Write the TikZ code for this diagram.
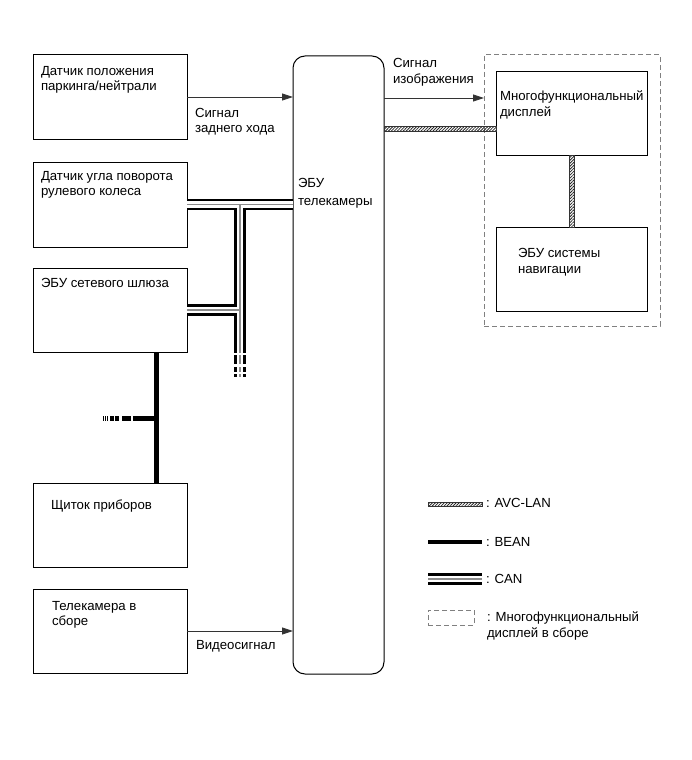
\documentclass[tikz,border=0pt]{standalone}
\usepackage{fontspec}
\setmainfont{Liberation Sans}
\usetikzlibrary{arrows.meta,patterns.meta}
\begin{document}
\begin{tikzpicture}[x=1pt,y=-1pt,
  box/.style={draw=black, line width=1pt, rectangle, inner sep=0pt, outer sep=0pt, anchor=north west},
  grpbox/.style={draw=black!50, line width=1pt, dash pattern=on 5pt off 3pt, rectangle, inner sep=0pt, outer sep=0pt, anchor=north west},
  txt/.style={font=\fontsize{13.2}{15.5}\selectfont, align=left, anchor=base west, inner sep=0pt, outer sep=0pt},
  sig/.style={draw=black!80, line width=0.9pt, -{Triangle[length=11pt,width=7pt]}},
  bean/.style={draw=black, line width=5pt},
  canA/.style={draw=black, line width=11.3pt},
  canB/.style={draw=white, line width=6.5pt},
  canC/.style={draw=black!45, line width=1.6pt},
  avc/.style={draw=black!80, line width=0.7pt, fill=white, pattern={Lines[angle=45,distance=2.1pt,line width=0.8pt]}, pattern color=black!85},
]
\useasboundingbox[fill=white] (0,0) rectangle (692,760);

% boxes
\node[box, minimum width=154pt, minimum height=84pt] (b1) at (33,55) {};
\node[box, minimum width=154pt, minimum height=85pt] (b2) at (33,162) {};
\node[box, minimum width=154pt, minimum height=84pt] (b3) at (33,268) {};
\node[box, minimum width=154pt, minimum height=84pt] (b4) at (33,483) {};
\node[box, minimum width=154pt, minimum height=84pt] (b5) at (33,589) {};
\node[box, rounded corners=12pt, minimum width=91pt, minimum height=618pt] (ecu) at (293,56) {};
\node[grpbox, minimum width=176pt, minimum height=271pt] (grp) at (484,55) {};
\node[box, minimum width=151pt, minimum height=83pt] (disp) at (496,72) {};
\node[box, minimum width=151pt, minimum height=84pt] (nav) at (496,227) {};

% texts (multi-line nodes: base = last line)
\node[txt] (t1) at (41,90.5) {Датчик положения\\паркинга/нейтрали};
\node[txt] (t2) at (41,195.5) {Датчик угла поворота\\рулевого колеса};
\node[txt] (t3) at (41,287) {ЭБУ сетевого шлюза};
\node[txt] (t4) at (51,509) {Щиток приборов};
\node[txt] (t5) at (52,625.5) {Телекамера в\\сборе};
\node[txt, font=\fontsize{13.2}{18}\selectfont] (tecu) at (298,205) {ЭБУ\\телекамеры};
\node[txt] (l1) at (195,132.5) {Сигнал\\заднего хода};
\node[txt] (l2) at (196,649) {Видеосигнал};
\node[txt] (l3) at (393,83) {Сигнал\\изображения};
\node[txt] (tdisp) at (500,116) {Многофункциональный\\дисплей};
\node[txt] (tnav) at (518,273) {ЭБУ системы\\навигации};

% signal arrows
\draw[sig] (b1.east) -- (b1.east -| ecu.west);
\draw[sig] (b5.east) -- (b5.east -| ecu.west);
\coordinate (imgy) at (0,98);
\draw[sig] (imgy -| ecu.east) -- (imgy -| grp.west);

% AVC-LAN
\coordinate (avcT) at (0,126);
\coordinate (avcB) at (0,131);
\path[avc] (avcT -| ecu.east) rectangle (avcB -| disp.west);
\coordinate (avcL) at (569.5,0);
\coordinate (avcR) at (574.5,0);
\path[avc] (avcL |- disp.south) rectangle (avcR |- nav.north);

% BEAN
\coordinate (bx) at (156,0);
\coordinate (by) at (0,418);
\draw[bean] (bx |- b3.south) -- (bx |- b4.north);
\draw[bean] (bx |- by) -- (133,418);
\coordinate (bend) at (103,418);
\draw[bean, dash pattern=on 0pt off 2pt on 9pt off 3pt on 4pt off 1pt on 4pt off 2pt on 1.2pt off 1pt on 1.2pt off 1pt on 1.2pt off 20pt] (133,418) -- (bend);

% CAN
\coordinate (cx) at (240,0);
\coordinate (cbot) at (240,353);
\coordinate (cend) at (240,378);
\foreach \lay in {canA,canB,canC}{
  \draw[\lay] (b2.east) -- (b2.east -| ecu.west);
  \draw[\lay] (cx |- b2.east) -- (cbot);
  \draw[\lay] (b3.east) -- (cx |- b3.east);
  \draw[\lay, dash pattern=on 0pt off 2pt on 9pt off 3pt on 5pt off 2pt on 3pt off 20pt] (cbot) -- (cend);
}

% legend
\path[avc] (428,502) coordinate (avc1) rectangle (482,506.5) coordinate (avc2);
\node[txt] (lt1) at (486,507) {: AVC-LAN};
\coordinate (bean1) at (428,542);
\coordinate (bean2) at (482,542);
\draw[line width=4.5pt, draw=black] (bean1) -- (bean2);
\node[txt] (lt2) at (486,546) {: BEAN};
\coordinate (can1) at (428,579);
\coordinate (can2) at (482,579);
\foreach \lay in {canA,canB,canC}{
  \draw[\lay] (can1) -- (can2);
}
\node[txt] (lt3) at (486,583) {: CAN};
\node[grpbox, minimum width=46pt, minimum height=15pt] (lgrp) at (428,610) {};
\node[txt] (lt4) at (487,637) {: Многофункциональный\\дисплей в сборе};
\end{tikzpicture}
\end{document}
